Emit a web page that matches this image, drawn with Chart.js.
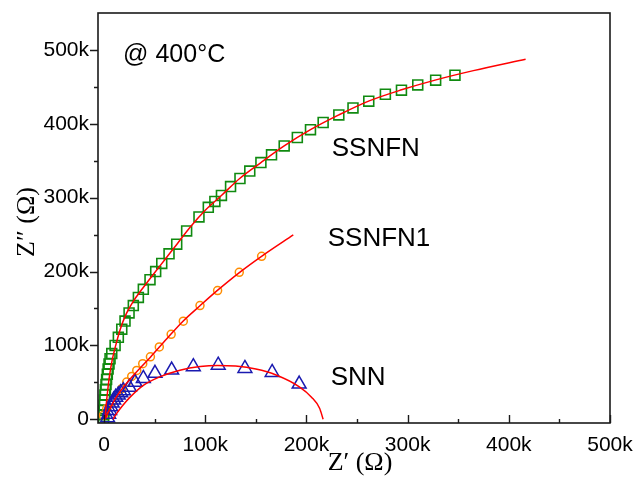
<!DOCTYPE html>
<html><head><meta charset="utf-8">
<script src="https://cdn.jsdelivr.net/npm/chart.js@4/dist/chart.umd.min.js"></script>
<style>html,body{margin:0;padding:0;background:#fff}</style>
</head><body>
<canvas id="c" width="635" height="477"></canvas>
<script>
// values in kΩ
const xMajorTicks = [0, 100, 200, 300, 400, 500];
const xTickLabels = ["0", "100k", "200k", "300k", "400k", "500k"];
const xMinorTicks = [50, 150, 250, 350, 450];
const yMajorTicks = [0, 100, 200, 300, 400, 500];
const yTickLabels = ["0", "100k", "200k", "300k", "400k", "500k"];
const yMinorTicks = [50, 150, 250, 350, 450];

const ssnfnX = [-0.5,-0.4,-0.2,0.1,0.4,0.8,1.3,1.9,2.5,3.2,4.0,4.9,5.9,7.6,10.9,14.1,17.5,20.7,24.7,28.9,33.9,38.8,45.4,51.0,57.0,64.2,71.8,81.6,93.8,103.0,109.5,116.0,125.0,134.3,144.0,155.0,165.5,178.0,191.0,204.0,216.5,232.0,246.0,261.6,278.0,293.9,310.0,327.7,346.8];
const ssnfnY = [1,6,12,19,26,33,40,47,54,61,68,75,82,89,100,111,122,133,144,154,165,176,189,200,211,224,237,255,274,287,295,303,315,326,336,347.5,358,370,381.5,392,401.8,412,421.5,430.7,440,445.5,452.7,459,465.8];
const ssnfnFitX = [1,2,3.5,5.5,8,11.5,16,22,29,38,48,60,72,85,100,116,134,155,178,204,232,262,294,328,365,416.6];
const ssnfnFitY = [0,18,38,60,80,100,122,143,160,177,195,216,237,260,283,303,326,347.5,370,392,412,431,446,459.5,472,487.4];

const ssnfn1X = [-0.7,2.7,7.6,12.5,17.5,22.4,27.3,32.3,38.2,45.8,54.6,66.3,78.3,94.8,112.2,133.6,155.7];
const ssnfn1Y = [5.4,14.5,23.4,32.4,41.5,50.4,58.1,66.2,75.3,84.6,98,115,132.8,154,174.3,199,220.7];
const ssnfn1FitX = [1,5,12,20,30,46,62,78,95,112,134,156,187];
const ssnfn1FitY = [0,12,30,45,61,84.5,109,132.8,154,174.5,199,221,249.6];

const snnX = [3.5,4.5,5.5,6.5,8,9.5,11.5,14,16.5,19,25,30.6,38.8,50.3,66.8,88.2,112.8,139.2,166.1,192.8];
const snnY = [2,7,12,17,22,26,30,33,36,38.8,43.3,50,55.4,62.2,66.6,71.3,73.3,68.9,63.5,47.7];
const snnFitX = [9,10.5,12.5,18,25.7,38.8,55,75,95,112,130,150,170,193,205,213,216.5];
const snnFitY = [0,4,8,18,30,46,57.5,66.5,71.5,73,72,68,60,44,30,15,0];

const notes = [
  {text: "@ 400°C", x: 18.8, y: 483, size: 25},
  {text: "SSNFN", x: 225, y: 357, size: 26},
  {text: "SSNFN1", x: 221, y: 235, size: 26},
  {text: "SNN", x: 224, y: 46, size: 26}
];

const pts = (xs, ys) => xs.map((v, i) => ({x: v, y: ys[i]}));
const SANS = "'Liberation Sans', Arial, sans-serif";
const SERIF = "'Liberation Serif', 'Times New Roman', serif";

function noPad(s) { s.paddingTop = 0; s.paddingBottom = 0; s.paddingLeft = 0; s.paddingRight = 0; }

const decor = {
  id: 'decor',
  afterDraw(chart) {
    const {ctx, chartArea: a, scales: {x, y}} = chart;
    ctx.save();
    ctx.strokeStyle = '#1a1a1a';
    ctx.lineWidth = 1.6;
    ctx.strokeRect(a.left, a.top, a.right - a.left, a.bottom - a.top);
    ctx.lineWidth = 1.4;
    ctx.beginPath();
    xMajorTicks.forEach(v => { const p = Math.round(x.getPixelForValue(v)) + 0.5; ctx.moveTo(p, a.bottom); ctx.lineTo(p, a.bottom - 8); });
    xMinorTicks.forEach(v => { const p = Math.round(x.getPixelForValue(v)) + 0.5; ctx.moveTo(p, a.bottom); ctx.lineTo(p, a.bottom - 4); });
    yMajorTicks.forEach(v => { const p = Math.round(y.getPixelForValue(v)) + 0.5; ctx.moveTo(a.left, p); ctx.lineTo(a.left - 8, p); });
    yMinorTicks.forEach(v => { const p = Math.round(y.getPixelForValue(v)) + 0.5; ctx.moveTo(a.left, p); ctx.lineTo(a.left - 4, p); });
    ctx.stroke();
    ctx.fillStyle = '#000';
    ctx.textAlign = 'left';
    ctx.textBaseline = 'alphabetic';
    notes.forEach(n => {
      ctx.font = n.size + 'px ' + SANS;
      ctx.fillText(n.text, x.getPixelForValue(n.x), y.getPixelForValue(n.y));
    });
    ctx.font = '26px ' + SERIF;
    ctx.textAlign = 'center';
    ctx.fillText("Z\u2032 (\u03A9)", (a.left + a.right) / 2 + 6, 470);
    ctx.translate(27, (a.top + a.bottom) / 2 + 4);
    ctx.rotate(-Math.PI / 2);
    ctx.textBaseline = 'middle';
    ctx.fillText("Z\u2033 (\u03A9)", 0, 0);
    ctx.restore();
  }
};

new Chart(document.getElementById('c'), {
  type: 'scatter',
  data: {
    datasets: [
      {data: pts(ssnfnFitX, ssnfnFitY), showLine: true, borderColor: '#ff0000', borderWidth: 1.5, pointRadius: 0, cubicInterpolationMode: 'monotone', order: 1},
      {data: pts(ssnfn1FitX, ssnfn1FitY), showLine: true, borderColor: '#ff0000', borderWidth: 1.5, pointRadius: 0, cubicInterpolationMode: 'monotone', order: 1},
      {data: pts(snnFitX, snnFitY), showLine: true, borderColor: '#ff0000', borderWidth: 1.5, pointRadius: 0, cubicInterpolationMode: 'monotone', order: 1},
      {data: pts(snnX, snnY), pointStyle: 'triangle', pointRadius: 8, borderColor: '#1a1ab0', backgroundColor: 'rgba(0,0,0,0)', borderWidth: 1.5, order: 2},
      {data: pts(ssnfn1X, ssnfn1Y), pointStyle: 'circle', pointRadius: 4, borderColor: '#ff8c00', backgroundColor: 'rgba(0,0,0,0)', borderWidth: 1.5, order: 3},
      {data: pts(ssnfnX, ssnfnY), pointStyle: 'rect', pointRadius: 7, borderColor: '#108a10', backgroundColor: 'rgba(0,0,0,0)', borderWidth: 1.6, order: 4}
    ]
  },
  options: {
    responsive: false,
    animation: false,
    devicePixelRatio: 1,
    layout: {padding: {top: 13, right: 25, left: 0, bottom: 0}},
    plugins: {legend: {display: false}, tooltip: {enabled: false}},
    scales: {
      x: {
        type: 'linear', min: -6, max: 500,
        afterFit(s) { s.height = 54; noPad(s); },
        afterBuildTicks(s) { s.ticks = xMajorTicks.map(v => ({value: v})); },
        ticks: {callback: (v, i) => xTickLabels[i], font: {family: SANS, size: 21}, color: '#000', padding: 10, maxRotation: 0, autoSkip: false},
        grid: {display: false, drawTicks: false},
        border: {display: false}
      },
      y: {
        type: 'linear', min: -5, max: 550,
        afterFit(s) { s.width = 98; noPad(s); },
        afterBuildTicks(s) { s.ticks = yMajorTicks.map(v => ({value: v})); },
        ticks: {callback: (v, i) => yTickLabels[i], font: {family: SANS, size: 21}, color: '#000', padding: 9, autoSkip: false},
        grid: {display: false, drawTicks: false},
        border: {display: false}
      }
    }
  },
  plugins: [decor]
});
</script>
</body></html>
